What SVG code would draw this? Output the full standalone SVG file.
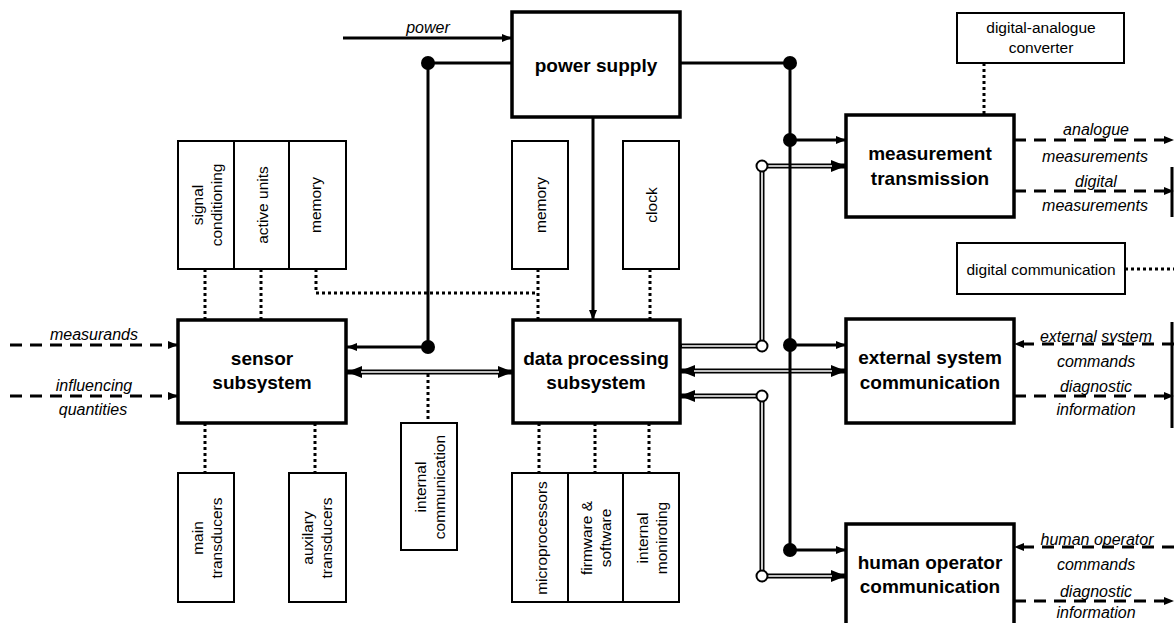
<svg xmlns="http://www.w3.org/2000/svg" width="1174" height="623" viewBox="0 0 1174 623">
<style>
text{font-family:"Liberation Sans",Arial,sans-serif;fill:#000}
.bl{font-size:19px;font-weight:bold;text-anchor:middle}
.it{font-size:16px;font-style:italic;text-anchor:middle}
.rg{font-size:15.5px;text-anchor:middle}
.main{fill:#fff;stroke:#000;stroke-width:3.5}
.sm{fill:#fff;stroke:#000;stroke-width:2}
.pw{fill:none;stroke:#000;stroke-width:3}
.dash{fill:none;stroke:#000;stroke-width:3;stroke-dasharray:12,8}
.dot{fill:none;stroke:#000;stroke-width:3;stroke-dasharray:3,3}
.dbk{fill:none;stroke:#000;stroke-width:5}
.dwh{fill:none;stroke:#fff;stroke-width:1.6}
.jn{fill:#000}
.oc{fill:#fff;stroke:#000;stroke-width:2}
</style>
<defs>
<marker id="a" viewBox="0 0 10 8" refX="10" refY="4" markerWidth="11" markerHeight="8" markerUnits="userSpaceOnUse" orient="auto-start-reverse"><path d="M0,0 L10,4 L0,8 z" fill="#000"/></marker>
<marker id="d" viewBox="0 0 15 12" refX="15" refY="6" markerWidth="15" markerHeight="12" markerUnits="userSpaceOnUse" orient="auto-start-reverse"><path d="M0,0 L15,6 L0,12 z" fill="#000"/></marker>
</defs>
<rect width="1174" height="623" fill="#fff"/>

<g id="connectors">
  <!-- double lines -->
  <path class="dbk" d="M347,372 H513" marker-start="url(#d)" marker-end="url(#d)"/>
  <path class="dwh" d="M361,372 H499"/>
  <path class="dbk" d="M680,371 H846" marker-start="url(#d)" marker-end="url(#d)"/>
  <path class="dwh" d="M694,371 H832"/>
  <path class="dbk" d="M680,346 H762 V166 H846" marker-end="url(#d)"/>
  <path class="dwh" d="M682,346 H762 V166 H832"/>
  <path class="dbk" d="M680,396 H762 V576 H846" marker-start="url(#d)" marker-end="url(#d)"/>
  <path class="dwh" d="M694,396 H762 V576 H832"/>
  <!-- power lines -->
  <path class="pw" d="M343,38 H512" marker-end="url(#a)" stroke-width="2.5"/>
  <path class="pw" d="M512,63 H428 V347 H347" marker-end="url(#a)"/>
  <path class="pw" d="M593,117 V320" marker-end="url(#a)"/>
  <path class="pw" d="M680,63 H790 V550"/>
  <path class="pw" d="M790,140 H846" marker-end="url(#a)"/>
  <path class="pw" d="M790,345 H846" marker-end="url(#a)"/>
  <path class="pw" d="M790,550 H846" marker-end="url(#a)"/>
  <!-- dotted -->
  <path class="dot" d="M205,269 V320"/>
  <path class="dot" d="M261,269 V320"/>
  <path class="dot" d="M316,269 V293 H538"/>
  <path class="dot" d="M538,269 V320"/>
  <path class="dot" d="M650,269 V320"/>
  <path class="dot" d="M428,374 V423"/>
  <path class="dot" d="M205,423 V473"/>
  <path class="dot" d="M315,423 V473"/>
  <path class="dot" d="M539,423 V473"/>
  <path class="dot" d="M595,423 V473"/>
  <path class="dot" d="M649,423 V473"/>
  <path class="dot" d="M984,63 V115"/>
  <path class="dot" d="M1125,269 H1174"/>
  <!-- dashed -->
  <path class="dash" d="M10,345 H178" marker-end="url(#a)"/>
  <path class="dash" d="M10,396 H178" marker-end="url(#a)"/>
  <path class="dash" d="M1014,140 H1174" marker-end="url(#a)"/>
  <path class="dash" d="M1014,191 H1174" marker-end="url(#a)"/>
  <path class="dash" d="M1174,344 H1014" marker-end="url(#a)"/>
  <path class="dash" d="M1014,396 H1174" marker-end="url(#a)"/>
  <path class="dash" d="M1174,547 H1014" marker-end="url(#a)"/>
  <path class="dash" d="M1014,601 H1174" marker-end="url(#a)"/>
  <path class="pw" d="M1172,167 V217 M1172,322 V428" stroke-width="2.5"/>
  <!-- junctions -->
  <circle class="jn" cx="428" cy="63" r="7"/>
  <circle class="jn" cx="428" cy="347" r="7"/>
  <circle class="jn" cx="790" cy="63" r="7"/>
  <circle class="jn" cx="790" cy="140" r="7"/>
  <circle class="jn" cx="790" cy="345" r="7"/>
  <circle class="jn" cx="790" cy="550" r="7"/>
  <circle class="oc" cx="762" cy="166" r="5.5"/>
  <circle class="oc" cx="762" cy="346" r="5.5"/>
  <circle class="oc" cx="762" cy="396" r="5.5"/>
  <circle class="oc" cx="762" cy="576" r="5.5"/>
  <!-- labels -->
  <text class="it" x="428" y="33">power</text>
  <text class="it" x="94" y="340">measurands</text>
  <text class="it" x="94" y="391">influencing</text>
  <text class="it" x="93" y="415">quantities</text>
  <text class="it" x="1096" y="135">analogue</text>
  <text class="it" x="1095" y="162">measurements</text>
  <text class="it" x="1096" y="187">digital</text>
  <text class="it" x="1095" y="211">measurements</text>
  <text class="it" x="1096" y="342">external system</text>
  <text class="it" x="1096" y="367">commands</text>
  <text class="it" x="1096" y="392">diagnostic</text>
  <text class="it" x="1096" y="415">information</text>
  <text class="it" x="1097" y="545">human operator</text>
  <text class="it" x="1096" y="570">commands</text>
  <text class="it" x="1096" y="597">diagnostic</text>
  <text class="it" x="1096" y="618">information</text>
</g>

<g id="power-supply">
  <rect class="main" x="512" y="12" width="168" height="105"/>
  <text class="bl" x="596" y="72">power supply</text>
</g>
<g id="sensor-subsystem">
  <rect class="main" x="178" y="320" width="168" height="103"/>
  <text class="bl" x="262" y="365">sensor</text>
  <text class="bl" x="262" y="389">subsystem</text>
</g>
<g id="data-processing">
  <rect class="main" x="513" y="320" width="167" height="103"/>
  <text class="bl" x="596" y="365">data processing</text>
  <text class="bl" x="596" y="389">subsystem</text>
</g>
<g id="measurement-transmission">
  <rect class="main" x="846" y="115" width="168" height="102"/>
  <text class="bl" x="930" y="160">measurement</text>
  <text class="bl" x="930" y="185">transmission</text>
</g>
<g id="external-system-communication">
  <rect class="main" x="846" y="319" width="168" height="104"/>
  <text class="bl" x="930" y="364">external system</text>
  <text class="bl" x="930" y="389">communication</text>
</g>
<g id="human-operator-communication">
  <rect class="main" x="846" y="524" width="168" height="110"/>
  <text class="bl" x="930" y="569">human operator</text>
  <text class="bl" x="930" y="593">communication</text>
</g>
<g id="digital-analogue-converter">
  <rect class="sm" x="957" y="13" width="167" height="50"/>
  <text class="rg" x="1041" y="33">digital-analogue</text>
  <text class="rg" x="1041" y="53">converter</text>
</g>
<g id="digital-communication">
  <rect class="sm" x="957" y="243" width="168" height="51"/>
  <text class="rg" x="1041" y="275">digital communication</text>
</g>
<g id="sensor-components">
  <rect class="sm" x="178" y="141" width="56" height="128"/>
  <rect class="sm" x="234" y="141" width="55" height="128"/>
  <rect class="sm" x="289" y="141" width="57" height="128"/>
  <text class="rg" transform="translate(206,205) rotate(-90)"><tspan x="0" y="-3">signal</tspan><tspan x="0" y="16">conditioning</tspan></text>
  <text class="rg" transform="translate(262,205) rotate(-90)" y="6">active units</text>
  <text class="rg" transform="translate(317,205) rotate(-90)" y="4">memory</text>
</g>
<g id="dp-memory">
  <rect class="sm" x="512" y="141" width="56" height="128"/>
  <text class="rg" transform="translate(540,205) rotate(-90)" y="6">memory</text>
</g>
<g id="clock">
  <rect class="sm" x="623" y="141" width="56" height="128"/>
  <text class="rg" transform="translate(651,205) rotate(-90)" y="6">clock</text>
</g>
<g id="main-transducers">
  <rect class="sm" x="178" y="473" width="56" height="129"/>
  <text class="rg" transform="translate(206,538) rotate(-90)"><tspan x="0" y="-3">main</tspan><tspan x="0" y="16">transducers</tspan></text>
</g>
<g id="auxilary-transducers">
  <rect class="sm" x="289" y="473" width="57" height="129"/>
  <text class="rg" transform="translate(317,538) rotate(-90)"><tspan x="0" y="-4">auxilary</tspan><tspan x="0" y="15">transducers</tspan></text>
</g>
<g id="internal-communication">
  <rect class="sm" x="401" y="423" width="56" height="127"/>
  <text class="rg" transform="translate(429,487) rotate(-90)"><tspan x="0" y="-3">internal</tspan><tspan x="0" y="16">communication</tspan></text>
</g>
<g id="dp-components">
  <rect class="sm" x="512" y="473" width="56" height="129"/>
  <rect class="sm" x="568" y="473" width="55" height="129"/>
  <rect class="sm" x="623" y="473" width="56" height="129"/>
  <text class="rg" transform="translate(540,538) rotate(-90)" y="7">microprocessors</text>
  <text class="rg" transform="translate(595,538) rotate(-90)"><tspan x="0" y="-3">firmware &amp;</tspan><tspan x="0" y="16">software</tspan></text>
  <text class="rg" transform="translate(651,538) rotate(-90)"><tspan x="0" y="-3">internal</tspan><tspan x="0" y="16">moniroting</tspan></text>
</g>
</svg>
